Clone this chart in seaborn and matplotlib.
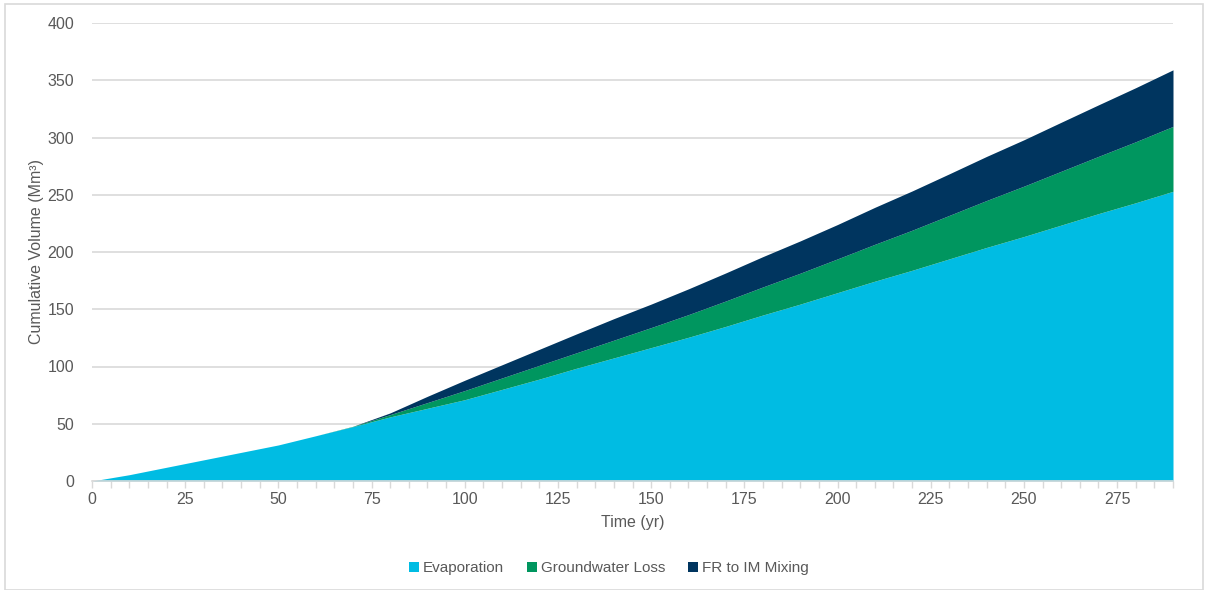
import numpy as np
import pandas as pd
import matplotlib
matplotlib.use("Agg")
import matplotlib.pyplot as plt
import seaborn as sns
from matplotlib.patches import Rectangle
from matplotlib.ticker import MultipleLocator

# ---- data ----
time_yr = [0, 10, 20, 30, 40, 50, 60, 70, 80, 90, 100, 110, 120, 130, 140,
           150, 160, 170, 180, 190, 200, 210, 220, 230, 240, 250, 260, 270, 280, 290]
evaporation = [0, 5.5, 12, 18.5, 25, 31.5, 39.5, 47.5, 56, 63.5, 71, 80, 89, 98.5, 107.5,
               116.5, 125.5, 135, 145, 154.5, 164.5, 174.5, 184, 194, 204, 213.5, 223.5, 233.5, 243, 253]
groundwater_loss = [0, 0, 0, 0, 0, 0, 0, 0.3, 2, 5, 8, 10, 12, 13.5, 15.5,
                    17.5, 19.8, 22.2, 24.5, 27, 29.5, 32.2, 35, 38, 41, 44, 47, 50, 53.3, 56.7]
fr_im_mixing = [0, 0, 0, 0, 0, 0, 0, 0, 1.5, 5.5, 9, 11.5, 14, 16.5, 18.8,
                20.5, 22.5, 24.5, 26.5, 28.2, 30, 32.3, 34.3, 36.3, 38.5, 40.5, 42.8, 45, 47.2, 49.4]
series_names = ["Evaporation", "Groundwater Loss", "FR to IM Mixing"]
series_colors = ["#00BCE3", "#00965F", "#00355F"]

df = pd.DataFrame({"Time": time_yr,
                   series_names[0]: evaporation,
                   series_names[1]: groundwater_loss,
                   series_names[2]: fr_im_mixing})

sns.set_theme(style="white")
plt.rcParams["font.family"] = ["Liberation Sans", "DejaVu Sans"]

fig = plt.figure(figsize=(12.06, 5.90), dpi=100)
ax = fig.add_axes([92/1206, 109/590, (1173-92)/1206, (481-23)/590])

ax.stackplot(df["Time"], *[df[n] for n in series_names],
             labels=series_names, colors=series_colors, linewidth=0)

ax.set_xlim(0, 290)
ax.set_ylim(0, 400)
ax.xaxis.set_major_locator(MultipleLocator(25))
ax.xaxis.set_minor_locator(MultipleLocator(5))
ax.yaxis.set_major_locator(MultipleLocator(50))

grid_c = "#D9D9D9"
text_c = "#595959"
ax.grid(axis="y", color=grid_c, linewidth=1.2)
ax.set_axisbelow(True)
for s in ["top", "right", "left"]:
    ax.spines[s].set_visible(False)
ax.spines["bottom"].set_color(grid_c)
ax.spines["bottom"].set_linewidth(1.2)

ax.tick_params(axis="x", which="both", direction="out", length=5, width=1,
               color=grid_c, labelsize=11.5, labelcolor=text_c, pad=3, bottom=True)
ax.tick_params(axis="y", which="both", length=0, labelsize=11.5, labelcolor=text_c, pad=13)

ax.set_xlabel("Time (yr)", fontsize=11.5, color=text_c, labelpad=6)
ax.set_ylabel("Cumulative Volume (Mm³)", fontsize=11.5, color=text_c, labelpad=2)

handles, labels = ax.get_legend_handles_labels()
fig.legend(handles, labels, loc="center", bbox_to_anchor=(609/1206, 1 - 568/590),
           ncol=3, frameon=False, fontsize=11, labelcolor=text_c,
           handlelength=0.65, handleheight=0.65, handletextpad=0.25, columnspacing=1.5)

fig.patches.append(Rectangle((5/1206, 0), 1198/1206, 1 - 4/590, transform=fig.transFigure,
                             fill=False, edgecolor="#D9D9D9", linewidth=1.2))

fig.savefig("out.png", dpi=100)
